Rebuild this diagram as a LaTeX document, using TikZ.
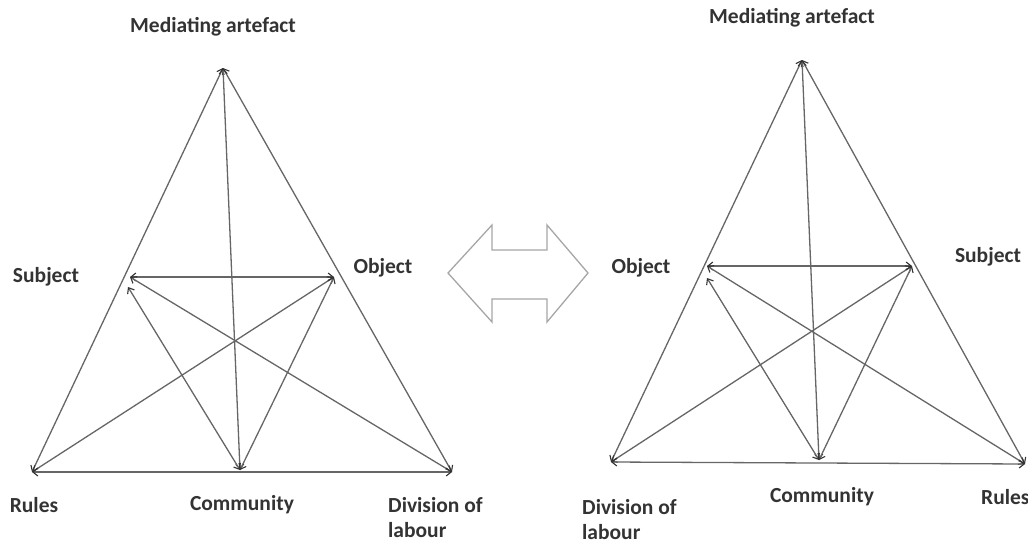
\documentclass[tikz,border=0pt]{standalone}
\usepackage{fontspec}
\setmainfont{Carlito}
\usetikzlibrary{arrows.meta}
\begin{document}
\begin{tikzpicture}[x=1pt,y=-1pt,
  tip/.style={Straight Barb[length=5pt,width=8pt,line width=1.1pt,color=black!80]},
  rel/.style={draw=black!60,line width=1.3pt,{Straight Barb[length=5pt,width=8pt,line width=1.1pt,color=black!80]}-{Straight Barb[length=5pt,width=8pt,line width=1.1pt,color=black!80]}},
  lbl/.style={font=\bfseries\fontsize{21.5}{24}\selectfont,text=black!80,inner sep=0pt},
  bigarrow/.style={draw=black!35,line width=1.3pt,line join=miter}]
\useasboundingbox (0,0) rectangle (1028,544);
% left triangle
\coordinate (A) at (223,68);
\coordinate (S) at (130,277);
\coordinate (S2) at (128,287);
\coordinate (O) at (334,277);
\coordinate (R) at (32,472);
\coordinate (C) at (240,470);
\coordinate (D) at (452,472);
\draw[rel] (R) -- (A);
\draw[rel] (D) -- (A);
\draw[rel] (C) -- (A);
\draw[rel] (S) -- (O);
\draw[rel] (S) -- (D);
\draw[rel] (O) -- (R);
\draw[rel] (C) -- (S2);
\draw[rel] (C) -- (O);
\draw[rel] (R) -- (D);
\node[lbl] (lA) at (213,27) {Mediating artefact};
\node[lbl] (lS) at (46,277) {Subject};
\node[lbl] (lO) at (383,268) {Object};
\node[lbl] (lR) at (34,505) {Rules};
\node[lbl] (lC) at (242,505) {Community};
\node[lbl,anchor=west,align=left] (lD) at (388,518) {Division of\\[1pt]labour};
% right triangle
\coordinate (A') at (802,60);
\coordinate (O') at (707,266);
\coordinate (O2') at (707,278);
\coordinate (S') at (912,266);
\coordinate (D') at (611,462);
\coordinate (C') at (819,460);
\coordinate (R') at (1025,464);
\draw[rel] (D') -- (A');
\draw[rel] (R') -- (A');
\draw[rel] (C') -- (A');
\draw[rel] (O') -- (S');
\draw[rel] (O') -- (R');
\draw[rel] (S') -- (D');
\draw[rel] (C') -- (O2');
\draw[rel] (C') -- (S');
\draw[rel] (D') -- (R');
\node[lbl] (lA') at (792,18) {Mediating artefact};
\node[lbl] (lO') at (641,268) {Object};
\node[lbl] (lS') at (988,257) {Subject};
\node[lbl,anchor=west] (lR') at (981,497) {Rules};
\node[lbl] (lC') at (822,497) {Community};
\node[lbl,anchor=west,align=left] (lD') at (582,520) {Division of\\[1pt]labour};
% double arrow
\draw[bigarrow] (448,273) -- (492,225) -- (492,250) -- (547,250) -- (547,225)
  -- (588,273) -- (547,322) -- (547,299) -- (492,299) -- (492,322) -- cycle;
\end{tikzpicture}
\end{document}
